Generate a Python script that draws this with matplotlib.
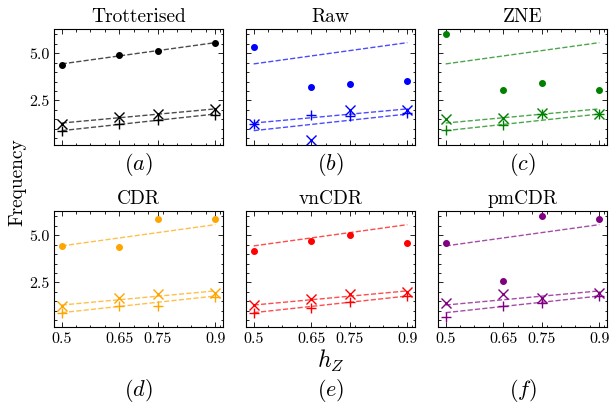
import numpy as np
import matplotlib
matplotlib.use("Agg")
import matplotlib.pyplot as plt
from matplotlib.ticker import AutoMinorLocator, FixedLocator, FixedFormatter

plt.rcParams['font.family'] = 'serif'
plt.rcParams['font.serif'] = ['cmr10', 'DejaVu Serif']
plt.rcParams['mathtext.fontset'] = 'cm'
plt.rcParams['axes.formatter.use_mathtext'] = True

# field strengths
hz = [0.5, 0.65, 0.75, 0.9]
hz_labels = ['0.5', '0.65', '0.75', '0.9']

methods = ['Trotterised', 'Raw', 'ZNE', 'CDR', 'vnCDR', 'pmCDR']
colors = ['black', 'blue', 'green', 'orange', 'red', 'purple']
panel_tags = ['a', 'b', 'c', 'd', 'e', 'f']

# frequencies per method: dots, crosses, pluses
freq_dot = [
    [4.39, 4.92, 5.14, 5.53],
    [5.32, 3.20, 3.36, 3.52],
    [5.99, 3.04, 3.43, 3.06],
    [4.43, 4.40, 5.86, 5.88],
    [4.14, 4.70, 5.00, 4.56],
    [4.56, 2.60, 6.00, 5.83],
]
freq_x = [
    [1.27, 1.62, 1.80, 2.02],
    [1.23, 0.42, 1.97, 1.97],
    [1.53, 1.58, 1.83, 1.78],
    [1.26, 1.69, 1.90, 1.95],
    [1.30, 1.63, 1.90, 1.97],
    [1.39, 1.87, 1.66, 1.92],
]
freq_plus = [
    [0.86, 1.27, 1.49, 1.74],
    [1.27, 1.74, 1.70, 1.83],
    [0.91, 1.18, 1.76, 1.80],
    [0.87, 1.25, 1.25, 1.74],
    [0.87, 1.13, 1.44, 1.79],
    [0.66, 1.25, 1.39, 1.78],
]

# linear fits of the trotterised results, drawn in every panel
hz_arr = np.array(hz)
fits = [np.polyval(np.polyfit(hz_arr, s[0], 1), hz_arr)
        for s in (freq_dot, freq_x, freq_plus)]

fig = plt.figure(figsize=(6.09, 4.12), dpi=100)
W, H = 609, 412
lefts = [54, 246, 438]
tops = [29, 211]
aw, ah = 169, 116

axs = []
first = None
for i in range(6):
    r, c = divmod(i, 3)
    rect = [lefts[c] / W, (H - tops[r] - ah) / H, aw / W, ah / H]
    ax = fig.add_axes(rect, sharex=first, sharey=first)
    if first is None:
        first = ax
    axs.append(ax)

for i, ax in enumerate(axs):
    col = colors[i]
    for f in fits:
        ax.plot(hz, f, '--', color=col, alpha=0.7, lw=1.0)
    ax.plot(hz, freq_dot[i], 'o', color=col, ms=4)
    ax.plot(hz, freq_x[i], 'x', color=col, ms=6.5, mew=1.0)
    ax.plot(hz, freq_plus[i], '+', color=col, ms=7, mew=1.0)
    ax.set_title(methods[i], fontsize=14, pad=5)

    ax.xaxis.set_major_locator(FixedLocator(hz))
    ax.xaxis.set_major_formatter(FixedFormatter(hz_labels))
    ax.xaxis.set_minor_locator(AutoMinorLocator())
    ax.yaxis.set_major_locator(FixedLocator([2.5, 5.0]))
    ax.yaxis.set_minor_locator(AutoMinorLocator())
    ax.tick_params(which='both', direction='in', top=True, right=True, width=0.6, labelsize=11.5)
    ax.tick_params(which='major', length=3.5)
    ax.tick_params(which='minor', length=1.8)
    for s in ax.spines.values():
        s.set_linewidth(0.8)

    r, c = divmod(i, 3)
    if r == 0:
        ax.tick_params(labelbottom=False)
        ax.text(0.5, -0.165, '$(%s)$' % panel_tags[i], transform=ax.transAxes,
                ha='center', va='center', fontsize=16)
    else:
        ax.text(0.5, -0.55, '$(%s)$' % panel_tags[i], transform=ax.transAxes,
                ha='center', va='center', fontsize=16)
    if c != 0:
        ax.tick_params(labelleft=False)

axs[0].yaxis.set_major_formatter(FixedFormatter(['2.5', '5.0']))
axs[3].yaxis.set_major_formatter(FixedFormatter(['2.5', '5.0']))
axs[4].text(0.5, -0.29, '$h_Z$', transform=axs[4].transAxes,
            ha='center', va='center', fontsize=17)

fig.text(0.028, 0.558, 'Frequency', rotation=90, ha='center', va='center', fontsize=14)

fig.savefig('out.png', dpi=100)
